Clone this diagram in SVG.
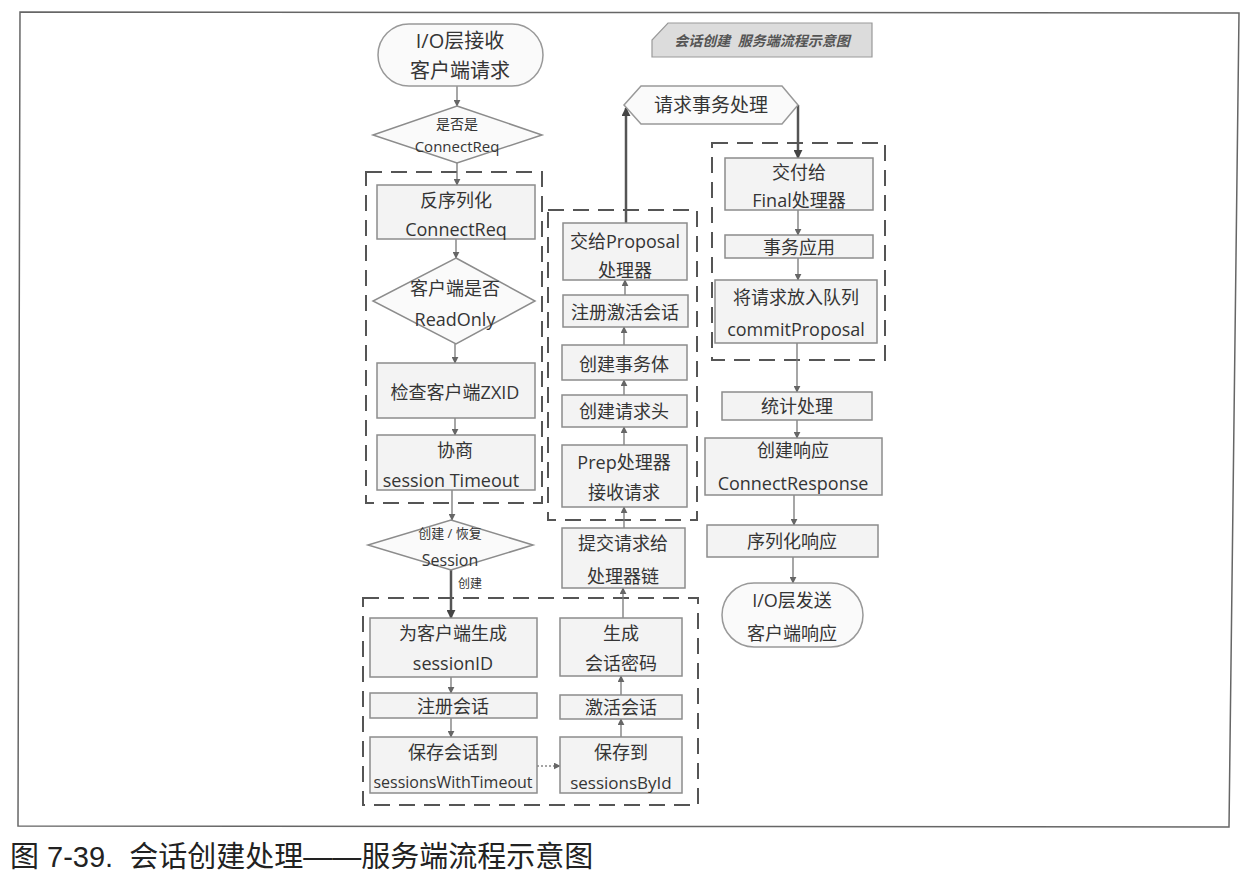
<svg xmlns="http://www.w3.org/2000/svg" width="1246" height="878" viewBox="0 0 1246 878">
<style>
text{font-family:"Open Sans","Noto Sans CJK SC",sans-serif;fill:#353535;text-anchor:middle;dominant-baseline:central}
.n{font-size:18px}
.s{font-size:15px}
.box{fill:#f3f3f3;stroke:#8c8c8c;stroke-width:1.5}
.term{fill:#fafafa;stroke:#999;stroke-width:1.5}
.grp{fill:none;stroke:#555;stroke-width:2;stroke-dasharray:16 9}
.c{fill:none;stroke:#777;stroke-width:1.3}
.ct{fill:none;stroke:#555;stroke-width:2.5}
.cd{fill:none;stroke:#888;stroke-width:1.3;stroke-dasharray:2 2}
</style>
<defs>
<marker id="a" viewBox="0 0 10 10" refX="9" refY="5" markerWidth="7" markerHeight="7" markerUnits="userSpaceOnUse" orient="auto"><path d="M0,0 L10,5 L0,10 z" fill="#666"/></marker>
<marker id="at" viewBox="0 0 10 10" refX="9" refY="5" markerWidth="9" markerHeight="9" markerUnits="userSpaceOnUse" orient="auto"><path d="M0,0 L10,5 L0,10 z" fill="#444"/></marker>
</defs>
<rect width="1246" height="878" fill="#fff"/>
<polygon points="20,12 1239,13 1229,827 18,826" fill="none" stroke="#666" stroke-width="1.5"/>

<g id="groups">
<rect class="grp" x="366" y="172" width="176" height="331"/>
<rect class="grp" x="548" y="210" width="149" height="310"/>
<rect class="grp" x="363" y="598" width="335" height="207"/>
<rect class="grp" x="712" y="143" width="173" height="217"/>
</g>

<g id="title">
<path d="M668,23 L872,23 L872,57 L652,57 L652,40 Z" fill="#dcdcdc" stroke="#999" stroke-width="1.2"/>
<text x="762" y="40" xml:space="preserve" style="font-size:14px;font-style:italic;font-weight:bold;fill:#555">会话创建  服务端流程示意图</text>
</g>

<g id="connectors">
<line class="c" x1="457" y1="86" x2="457" y2="106" marker-end="url(#a)"/>
<line class="c" x1="457" y1="163" x2="457" y2="185" marker-end="url(#a)"/>
<line class="c" x1="456" y1="239" x2="456" y2="258" marker-end="url(#a)"/>
<line class="c" x1="455" y1="344" x2="455" y2="363" marker-end="url(#a)"/>
<line class="c" x1="455" y1="418" x2="455" y2="435" marker-end="url(#a)"/>
<line class="c" x1="452" y1="490" x2="452" y2="520" marker-end="url(#a)"/>
<line class="ct" x1="451" y1="570" x2="451" y2="618" marker-end="url(#at)"/>
<text x="470" y="583" style="font-size:12px">创建</text>
<line class="c" x1="451" y1="677" x2="451" y2="693" marker-end="url(#a)"/>
<line class="c" x1="451" y1="718" x2="451" y2="737" marker-end="url(#a)"/>
<line class="cd" x1="537" y1="766" x2="560" y2="766" marker-end="url(#a)"/>
<line class="c" x1="621" y1="737" x2="621" y2="719" marker-end="url(#a)"/>
<line class="c" x1="621" y1="695" x2="621" y2="676" marker-end="url(#a)"/>
<line class="c" x1="623" y1="618" x2="623" y2="588" marker-end="url(#a)"/>
<line class="c" x1="624" y1="528" x2="624" y2="507" marker-end="url(#a)"/>
<line class="c" x1="624" y1="445" x2="624" y2="427" marker-end="url(#a)"/>
<line class="c" x1="624" y1="395" x2="624" y2="380" marker-end="url(#a)"/>
<line class="c" x1="624" y1="345" x2="624" y2="327" marker-end="url(#a)"/>
<line class="c" x1="625" y1="295" x2="625" y2="280" marker-end="url(#a)"/>
<line class="ct" x1="626" y1="223" x2="626" y2="108" marker-end="url(#at)"/>
<line class="ct" x1="798" y1="105" x2="798" y2="158" marker-end="url(#at)"/>
<line class="c" x1="798" y1="210" x2="798" y2="235" marker-end="url(#a)"/>
<line class="c" x1="798" y1="258" x2="798" y2="280" marker-end="url(#a)"/>
<line class="c" x1="797" y1="343" x2="797" y2="392" marker-end="url(#a)"/>
<line class="c" x1="797" y1="420" x2="797" y2="438" marker-end="url(#a)"/>
<line class="c" x1="794" y1="495" x2="794" y2="525" marker-end="url(#a)"/>
<line class="c" x1="793" y1="557" x2="793" y2="583" marker-end="url(#a)"/>
</g>

<g id="n_start">
<rect class="term" x="378" y="24" width="165" height="62" rx="31"/>
<text x="460" y="40" style="font-size:20px">I/O层接收</text>
<text x="460" y="70" style="font-size:20px">客户端请求</text>
</g>
<g id="n_isconnect">
<polygon class="box" points="457,106 542,135 457,163 373,135" style="fill:#fafafa"/>
<text x="457" y="123" style="font-size:14px">是否是</text>
<text x="457" y="146" class="s">ConnectReq</text>
</g>
<g id="n_deser">
<rect class="box" x="377" y="185" width="158" height="54"/>
<text x="456" y="200" class="n">反序列化</text>
<text x="456" y="229" class="n">ConnectReq</text>
</g>
<g id="n_readonly">
<polygon class="box" points="456,258 535,301 456,344 373,301" style="fill:#fafafa"/>
<text x="455" y="288" class="n">客户端是否</text>
<text x="455" y="319" class="n">ReadOnly</text>
</g>
<g id="n_zxid">
<rect class="box" x="377" y="363" width="158" height="55"/>
<text x="455" y="392" class="n">检查客户端ZXID</text>
</g>
<g id="n_timeout">
<rect class="box" x="377" y="435" width="158" height="55"/>
<text x="455" y="450" class="n">协商</text>
<text x="451" y="480" class="n">session Timeout</text>
</g>
<g id="n_session">
<polygon class="box" points="451,520 533,545 451,570 368,545" style="fill:#fafafa"/>
<text x="450" y="533" style="font-size:13px">创建 / 恢复</text>
<text x="450" y="560" style="font-size:16px">Session</text>
</g>
<g id="n_genid">
<rect class="box" x="370" y="618" width="167" height="59"/>
<text x="453" y="633" class="n">为客户端生成</text>
<text x="453" y="663" class="n">sessionID</text>
</g>
<g id="n_reg">
<rect class="box" x="370" y="693" width="167" height="25"/>
<text x="453" y="706" class="n">注册会话</text>
</g>
<g id="n_savetimeout">
<rect class="box" x="370" y="737" width="167" height="56"/>
<text x="453" y="752" class="n">保存会话到</text>
<text x="453" y="782" style="font-size:16px">sessionsWithTimeout</text>
</g>
<g id="n_savebyid">
<rect class="box" x="560" y="737" width="122" height="56"/>
<text x="621" y="752" class="n">保存到</text>
<text x="621" y="782" style="font-size:17px">sessionsById</text>
</g>
<g id="n_activate">
<rect class="box" x="560" y="695" width="122" height="24"/>
<text x="621" y="707" class="n">激活会话</text>
</g>
<g id="n_passwd">
<rect class="box" x="560" y="618" width="122" height="58"/>
<text x="621" y="633" class="n">生成</text>
<text x="621" y="663" class="n">会话密码</text>
</g>
<g id="n_submit">
<rect class="box" x="562" y="528" width="123" height="60"/>
<text x="623" y="543" class="n">提交请求给</text>
<text x="623" y="576" class="n">处理器链</text>
</g>
<g id="n_prep">
<rect class="box" x="562" y="445" width="125" height="62"/>
<text x="624" y="462" class="n">Prep处理器</text>
<text x="624" y="492" class="n">接收请求</text>
</g>
<g id="n_header">
<rect class="box" x="562" y="395" width="125" height="32"/>
<text x="624" y="411" class="n">创建请求头</text>
</g>
<g id="n_txn">
<rect class="box" x="562" y="345" width="125" height="35"/>
<text x="624" y="364" class="n">创建事务体</text>
</g>
<g id="n_regactive">
<rect class="box" x="563" y="295" width="125" height="32"/>
<text x="625" y="312" class="n">注册激活会话</text>
</g>
<g id="n_proposal">
<rect class="box" x="563" y="223" width="124" height="57"/>
<text x="625" y="241" class="n">交给Proposal</text>
<text x="625" y="270" class="n">处理器</text>
</g>
<g id="n_txnproc">
<polygon class="term" points="624,105 641,86 782,86 798,105 782,124 641,124"/>
<text x="711" y="105" style="font-size:19px">请求事务处理</text>
</g>
<g id="n_final">
<rect class="box" x="725" y="158" width="148" height="52"/>
<text x="799" y="172" class="n">交付给</text>
<text x="799" y="200" class="n">Final处理器</text>
</g>
<g id="n_apply">
<rect class="box" x="725" y="235" width="148" height="23"/>
<text x="799" y="247" class="n">事务应用</text>
</g>
<g id="n_commit">
<rect class="box" x="715" y="280" width="162" height="63"/>
<text x="796" y="297" class="n">将请求放入队列</text>
<text x="796" y="329" class="n">commitProposal</text>
</g>
<g id="n_stat">
<rect class="box" x="722" y="392" width="150" height="28"/>
<text x="797" y="406" class="n">统计处理</text>
</g>
<g id="n_resp">
<rect class="box" x="705" y="438" width="177" height="57"/>
<text x="793" y="450" class="n">创建响应</text>
<text x="793" y="483" class="n">ConnectResponse</text>
</g>
<g id="n_serial">
<rect class="box" x="707" y="525" width="171" height="32"/>
<text x="792" y="541" class="n">序列化响应</text>
</g>
<g id="n_end">
<rect class="term" x="722" y="583" width="141" height="64" rx="32"/>
<text x="792" y="600" class="n">I/O层发送</text>
<text x="792" y="633" class="n">客户端响应</text>
</g>

<text x="10" y="857" xml:space="preserve" style="font-size:29px;text-anchor:start;fill:#222;font-family:'Liberation Sans','Noto Sans CJK SC',sans-serif">图 7-39.  会话创建处理——服务端流程示意图</text>
</svg>
